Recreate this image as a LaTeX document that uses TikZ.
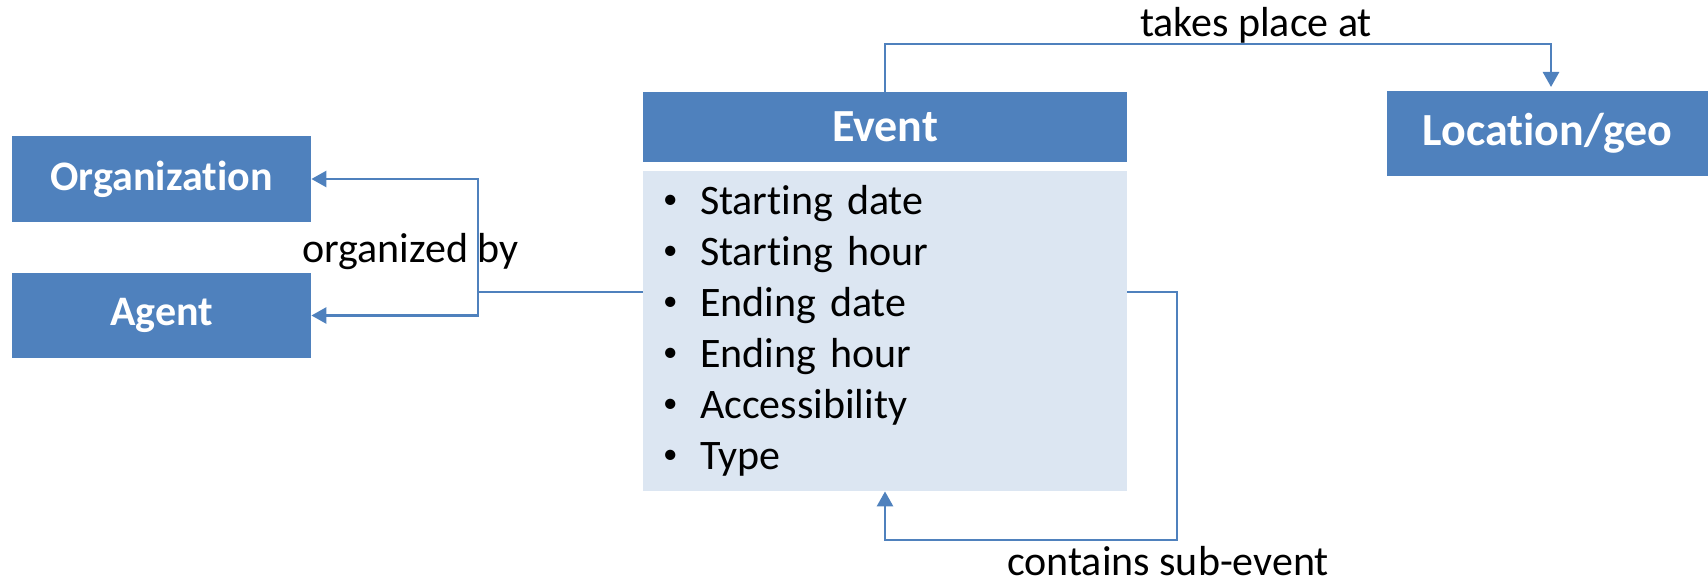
\documentclass[tikz,border=0pt]{standalone}
\usepackage{fontspec}
\setmainfont{Carlito}[Ligatures={NoCommon,NoContextual}]
\usetikzlibrary{arrows.meta}
\definecolor{boxblue}{RGB}{79,129,189}
\definecolor{paleblue}{RGB}{220,230,242}
\newcommand{\itm}{\makebox[18.5pt][l]{\raisebox{3pt}{\fontsize{14.5}{14.5}\selectfont\textbullet}}}

\begin{document}
\begin{tikzpicture}[x=0.5pt, y=-0.5pt,
        entity/.style={fill=boxblue, text=white, inner sep=0pt, font=\bfseries\fontsize{21}{25}\selectfont},
        attrs/.style={fill=paleblue, inner xsep=10pt, inner ysep=0pt, align=left, text width=222pt, minimum width=242pt, minimum height=160pt, font=\fontsize{21}{25.5}\selectfont},
        lbl/.style={anchor=base, inner sep=0pt, font=\fontsize{21}{25}\selectfont},
        link/.style={draw=boxblue, line width=1.35pt, -{Triangle[width=8pt, length=7.5pt]}},
        line/.style={draw=boxblue, line width=1.35pt}]
        \useasboundingbox (0,0) rectangle (1708,583);

        \node[entity, minimum width=149.5pt, minimum height=43pt] (org) at (161.5,179) {Organization};
        \node[entity, minimum width=149.5pt, minimum height=42.5pt] (agent) at (161.5,315.5) {Agent};
        \node[entity, minimum width=242pt, minimum height=35pt, font=\bfseries\fontsize{23}{27}\selectfont] (event) at (885,127) {Event};
        \node[attrs] (body) at (885,331) {\itm Starting date\\ \itm Starting hour\\ \itm Ending date\\ \itm Ending hour\\ \itm Accessibility\\ \itm Type};
        \node[entity, minimum width=160.5pt, minimum height=42.5pt, font=\bfseries\fontsize{23}{27}\selectfont] (loc) at (1547.5,133.5) {Location/geo};

        \node[lbl] (takes) at (1256,37) {takes place at};
        \node[lbl] (orgby) at (410.5,262) {organized by};
        \node[lbl] (subev) at (1168,575) {contains sub-event};

        \coordinate (split) at (478,292);
        \coordinate (bend) at (1551,44);
        \coordinate (locin) at (1551,87);
        \coordinate (loopbase) at (1177,540);

        \draw[line] (split -| body.west) -- (split);
        \draw[link] (split) |- (org.east);
        \draw[link] (split) |- (agent.east);
        \draw[link] (event.north) |- (bend) -- (locin);
        \draw[link] (split -| body.east) -| (loopbase) -| (body.south);
\end{tikzpicture}
\end{document}
